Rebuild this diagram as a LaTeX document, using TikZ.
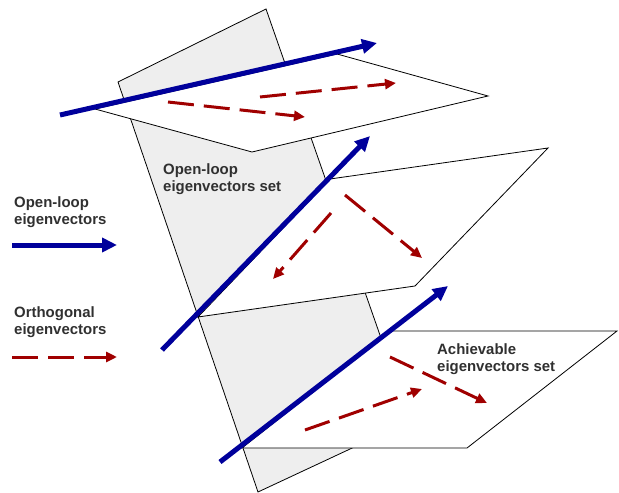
\documentclass[tikz,border=0pt]{standalone}
\usepackage{fontspec}
\setmainfont{Liberation Sans}
\usetikzlibrary{arrows.meta, positioning}
\definecolor{eigblue}{RGB}{0,0,155}
\definecolor{eigred}{RGB}{160,0,0}
\definecolor{setgray}{RGB}{238,238,238}
\definecolor{labelgray}{RGB}{48,48,48}

\begin{document}
\begin{tikzpicture}[x=1bp, y=-1bp,
		plane/.style={draw=black, line width=0.8bp, fill=white},
		openloop/.style={draw=eigblue, line width=5bp, -{Triangle[length=15bp,width=14bp]}},
		ortho/.style={draw=eigred, line width=3bp, dash pattern=on 26bp off 10bp, -{Triangle[length=11bp,width=10bp]}},
		lbl/.style={inner sep=0pt, anchor=north west, align=left, text=labelgray, font=\fontsize{15}{18}\selectfont\bfseries}]
			\useasboundingbox (0,0) rectangle (619,493);
			% sets
			\draw[plane, fill=setgray] (118,82) -- (266,9) -- (410,421) -- (258,492) -- cycle;
			\draw[plane] (95,109) -- (337,54) -- (488,96) -- (252,152) -- cycle;
			\draw[plane] (198,317) -- (330,179) -- (548,148) -- (415,286) -- cycle;
			\draw[plane] (242,448) -- (390,331) -- (617,331) -- (467,448) -- cycle;
			% open-loop eigenvectors
			\coordinate (b1) at (60,115);  \coordinate (B1) at (377,43);
			\coordinate (b2) at (162,350); \coordinate (B2) at (370,136);
			\coordinate (b3) at (220,462); \coordinate (B3) at (448,286);
			\coordinate (bl) at (12,245);  \coordinate (Bl) at (117,245);
			\foreach \from/\to in {b1/B1,b2/B2,b3/B3,bl/Bl}
				\draw[openloop] (\from) -- (\to);
			% orthogonal eigenvectors
			\coordinate (r1) at (168,102); \coordinate (R1) at (305,117);
			\coordinate (r2) at (260,97);  \coordinate (R2) at (396,83);
			\coordinate (r3) at (345,195); \coordinate (R3) at (422,258);
			\coordinate (r4) at (331,213); \coordinate (R4) at (273,279);
			\coordinate (r5) at (305,430); \coordinate (R5) at (422,389);
			\coordinate (r6) at (390,357); \coordinate (R6) at (487,403);
			\coordinate (rl) at (12,357);  \coordinate (Rl) at (117,357);
			\foreach \from/\to in {r1/R1,r2/R2,r3/R3,r4/R4,r5/R5,r6/R6,rl/Rl}
				\draw[ortho] (\from) -- (\to);
			% labels
			\node[lbl] (legblue) at (14,196) {Open-loop\\eigenvectors};
			\node[lbl] (legred) at (14,306) {Orthogonal\\eigenvectors};
			\node[lbl] (olset) at (163,163) {Open-loop\\eigenvectors set};
			\node[lbl] (achset) at (437,343) {Achievable\\eigenvectors set};
		\end{tikzpicture}
\end{document}
